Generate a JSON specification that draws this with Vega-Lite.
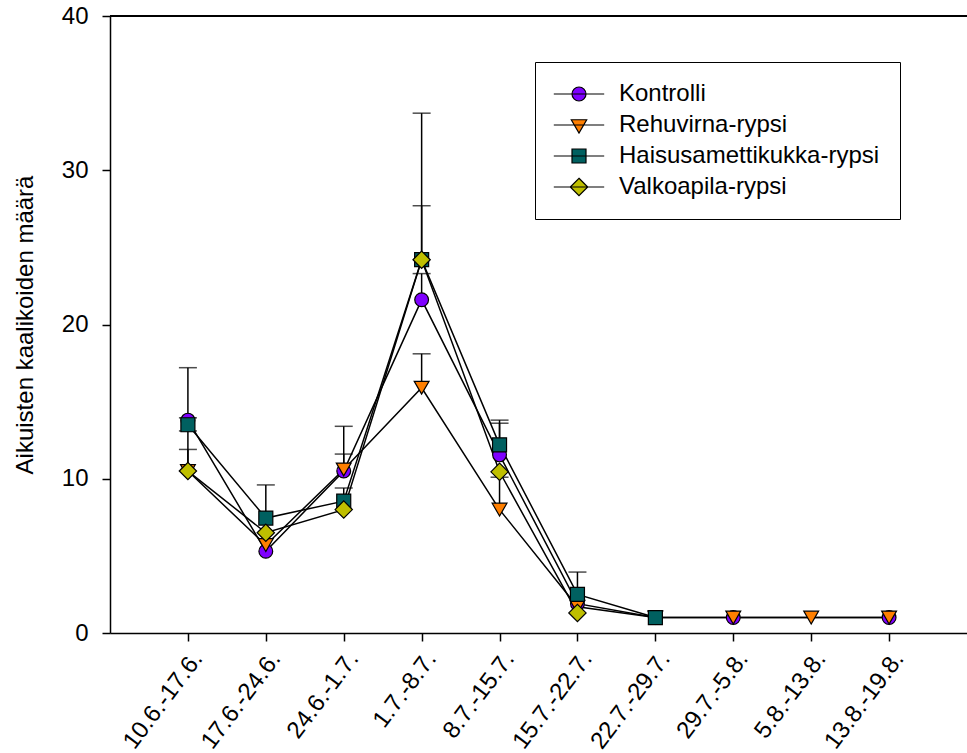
{
  "$schema": "https://vega.github.io/schema/vega-lite/v6.json",
  "autosize": {"type": "none"},
  "padding": {"left": 110, "top": 16, "right": 0, "bottom": 120},
  "width": 857,
  "height": 617,
  "background": "white",
  "config": {
    "view": {"stroke": null},
    "font": "Liberation Sans",
    "axis": {"labelFont": "Liberation Sans", "titleFont": "Liberation Sans", "labelColor": "black", "titleColor": "black", "domainColor": "black", "tickColor": "black", "domainWidth": 1.5, "tickWidth": 1.5, "grid": false}
  },
  "data": {
    "values": [
      {"period": "10.6.-17.6.", "series": "Kontrolli", "value": 13.8, "upper": 17.2},
      {"period": "17.6.-24.6.", "series": "Kontrolli", "value": 5.3},
      {"period": "24.6.-1.7.", "series": "Kontrolli", "value": 10.5, "upper": 11.6},
      {"period": "1.7.-8.7.", "series": "Kontrolli", "value": 21.6, "upper": 23.3},
      {"period": "8.7.-15.7.", "series": "Kontrolli", "value": 11.55, "upper": 13.6},
      {"period": "15.7.-22.7.", "series": "Kontrolli", "value": 1.9},
      {"period": "22.7.-29.7.", "series": "Kontrolli", "value": 1.0},
      {"period": "29.7.-5.8.", "series": "Kontrolli", "value": 1.0},
      {"period": "13.8.-19.8.", "series": "Kontrolli", "value": 1.0},
      {"period": "10.6.-17.6.", "series": "Rehuvirna-rypsi", "value": 10.5, "upper": 13.1},
      {"period": "17.6.-24.6.", "series": "Rehuvirna-rypsi", "value": 5.7},
      {"period": "24.6.-1.7.", "series": "Rehuvirna-rypsi", "value": 10.6, "upper": 13.4},
      {"period": "1.7.-8.7.", "series": "Rehuvirna-rypsi", "value": 15.9, "upper": 18.1},
      {"period": "8.7.-15.7.", "series": "Rehuvirna-rypsi", "value": 8.0, "upper": 10.1},
      {"period": "15.7.-22.7.", "series": "Rehuvirna-rypsi", "value": 1.7},
      {"period": "22.7.-29.7.", "series": "Rehuvirna-rypsi", "value": 1.0},
      {"period": "29.7.-5.8.", "series": "Rehuvirna-rypsi", "value": 1.0},
      {"period": "5.8.-13.8.", "series": "Rehuvirna-rypsi", "value": 1.0},
      {"period": "13.8.-19.8.", "series": "Rehuvirna-rypsi", "value": 1.0},
      {"period": "10.6.-17.6.", "series": "Haisusamettikukka-rypsi", "value": 13.5, "upper": 13.95},
      {"period": "17.6.-24.6.", "series": "Haisusamettikukka-rypsi", "value": 7.45, "upper": 9.6},
      {"period": "24.6.-1.7.", "series": "Haisusamettikukka-rypsi", "value": 8.55, "upper": 9.4},
      {"period": "1.7.-8.7.", "series": "Haisusamettikukka-rypsi", "value": 24.2, "upper": 33.7},
      {"period": "8.7.-15.7.", "series": "Haisusamettikukka-rypsi", "value": 12.2, "upper": 13.8},
      {"period": "15.7.-22.7.", "series": "Haisusamettikukka-rypsi", "value": 2.5, "upper": 3.95},
      {"period": "22.7.-29.7.", "series": "Haisusamettikukka-rypsi", "value": 1.0},
      {"period": "10.6.-17.6.", "series": "Valkoapila-rypsi", "value": 10.5, "upper": 11.9},
      {"period": "17.6.-24.6.", "series": "Valkoapila-rypsi", "value": 6.5},
      {"period": "24.6.-1.7.", "series": "Valkoapila-rypsi", "value": 8.0},
      {"period": "1.7.-8.7.", "series": "Valkoapila-rypsi", "value": 24.2, "upper": 27.7},
      {"period": "8.7.-15.7.", "series": "Valkoapila-rypsi", "value": 10.45},
      {"period": "15.7.-22.7.", "series": "Valkoapila-rypsi", "value": 1.3}
    ]
  },
  "encoding": {
    "x": {
      "field": "period", "type": "ordinal",
      "sort": ["10.6.-17.6.", "17.6.-24.6.", "24.6.-1.7.", "1.7.-8.7.", "8.7.-15.7.", "15.7.-22.7.", "22.7.-29.7.", "29.7.-5.8.", "5.8.-13.8.", "13.8.-19.8."],
      "scale": {"type": "point", "padding": 1},
      "axis": {"title": null, "labelAngle": -53, "labelAlign": "right", "labelBaseline": "top", "labelFontSize": 24, "labelPadding": 6, "tickSize": 8}
    },
    "y": {
      "field": "value", "type": "quantitative",
      "scale": {"domain": [0, 40], "nice": false},
      "axis": {"title": "Aikuisten kaalikoiden määrä", "titleFontSize": 24, "titleFontWeight": "normal", "titlePadding": 24, "labelFontSize": 24, "labelPadding": 14, "tickSize": 8, "values": [0, 10, 20, 30, 40]}
    }
  },
  "layer": [
    {
      "mark": {"type": "rule", "color": "black", "strokeWidth": 1.5},
      "encoding": {"x": null, "y": {"datum": 40, "type": "quantitative"}}
    },
    {
      "transform": [{"filter": "isValid(datum.upper)"}],
      "mark": {"type": "rule", "color": "black", "strokeWidth": 1.5},
      "encoding": {"y2": {"field": "upper"}}
    },
    {
      "transform": [{"filter": "isValid(datum.upper)"}],
      "mark": {"type": "tick", "color": "black", "size": 18, "thickness": 1.5},
      "encoding": {"y": {"field": "upper", "type": "quantitative"}}
    },
    {
      "mark": {"type": "line", "color": "black", "strokeWidth": 1.5},
      "encoding": {"detail": {"field": "series"}, "order": {"value": null}}
    },
    {
      "transform": [{"filter": "datum.series === 'Kontrolli'"}],
      "mark": {"type": "point", "shape": "circle", "filled": true, "fill": "#7F00FF", "opacity": 1, "stroke": "black", "strokeWidth": 1.2, "size": 190},
      "encoding": {}
    },
    {
      "transform": [{"filter": "datum.series === 'Rehuvirna-rypsi'"}],
      "mark": {"type": "point", "shape": "triangle-down", "filled": true, "fill": "#FF7F00", "opacity": 1, "stroke": "black", "strokeWidth": 1.2, "size": 220},
      "encoding": {}
    },
    {
      "transform": [{"filter": "datum.series === 'Haisusamettikukka-rypsi'"}],
      "mark": {"type": "point", "shape": "square", "filled": true, "fill": "#006060", "opacity": 1, "stroke": "black", "strokeWidth": 1.2, "size": 196},
      "encoding": {}
    },
    {
      "transform": [{"filter": "datum.series === 'Valkoapila-rypsi'"}],
      "mark": {"type": "point", "shape": "diamond", "filled": true, "fill": "#BFBF00", "opacity": 1, "stroke": "black", "strokeWidth": 1.2, "size": 300},
      "encoding": {}
    },
    {
      "transform": [{"filter": "false"}],
      "mark": {"type": "point", "filled": true, "opacity": 1, "stroke": "black", "strokeWidth": 1.2, "size": 196},
      "encoding": {
        "color": {
          "field": "series", "type": "nominal",
          "scale": {"domain": ["Kontrolli", "Rehuvirna-rypsi", "Haisusamettikukka-rypsi", "Valkoapila-rypsi"], "range": ["#7F00FF", "#FF7F00", "#006060", "#BFBF00"]},
          "legend": {
            "title": null, "orient": "none", "legendX": 425, "legendY": 46,
            "strokeColor": "black", "fillColor": "white", "padding": 20,
            "labelFont": "Liberation Sans", "labelFontSize": 24, "labelColor": "black", "labelLimit": 500,
            "labelOffset": 28, "symbolOffset": 12, "rowPadding": 7, "symbolSize": 196,
            "symbolStrokeColor": "black", "symbolStrokeWidth": 1.2, "symbolOpacity": 1
          }
        },
        "shape": {
          "field": "series", "type": "nominal",
          "scale": {"domain": ["Kontrolli", "Rehuvirna-rypsi", "Haisusamettikukka-rypsi", "Valkoapila-rypsi"], "range": ["M-3.6,0H3.6M1,0A1,1 0 1,1 -1,0A1,1 0 1,1 1,0Z", "M-3.6,0H3.6M-1.1,-0.75L1.1,-0.75L0,1.15Z", "M-3.6,0H3.6M-1,-1H1V1H-1Z", "M-3.6,0H3.6M0,-1.25L1.25,0L0,1.25L-1.25,0Z"]}
        }
      }
    }
  ]
}
